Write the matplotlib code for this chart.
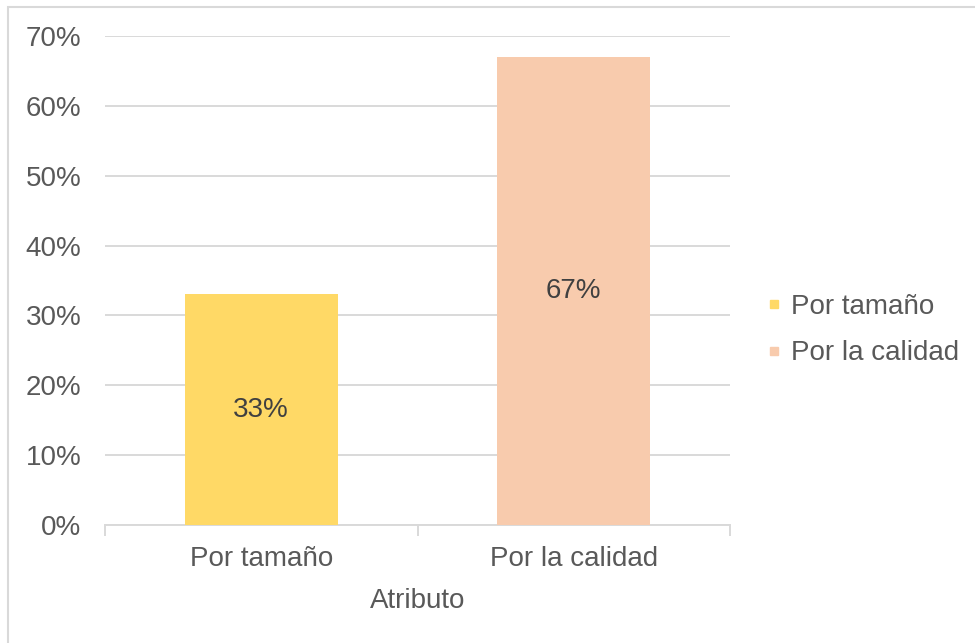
import matplotlib
matplotlib.use("Agg")
from matplotlib import pyplot as plt
from matplotlib.lines import Line2D
from matplotlib.patches import Rectangle

categories = ["Por tamaño", "Por la calidad"]
shares = [0.33, 0.67]
bar_colors = ["#FFD966", "#F8CBAD"]
y_ticks = [0, 0.1, 0.2, 0.3, 0.4, 0.5, 0.6, 0.7]
x_title = "Atributo"

plt.rcParams["font.family"] = ["Liberation Sans", "DejaVu Sans"]
txt = "#595959"
grid = "#D9D9D9"
fs = 20

fig = plt.figure(figsize=(9.75, 6.43), dpi=100)
ax = fig.add_axes([105 / 975, 1 - 525 / 643, 625 / 975, 489 / 643])

# light frame around the chart area
fig.patches.append(Rectangle((8 / 975, -0.1), 1.2, 1 - 7 / 643 + 0.1,
                             transform=fig.transFigure, fill=False,
                             edgecolor=grid, linewidth=1.5))

x = list(range(len(categories)))
bars = ax.bar(x, shares, width=0.49, color=bar_colors, zorder=3)
ax.bar_label(bars, labels=[f"{round(v * 100)}%" for v in shares], label_type="center",
             fontsize=fs, color="#404040")

ax.set_xlim(-0.5, 1.5)
ax.set_ylim(0, 0.7)
ax.set_yticks(y_ticks)
ax.set_yticklabels([f"{int(round(t * 100))}%" for t in y_ticks])
ax.yaxis.grid(True, color=grid, linewidth=1.4, zorder=0)
ax.set_axisbelow(True)

ax.set_xticks(x)
ax.set_xticklabels(categories)
ax.set_xticks([-0.5, 0.5, 1.5], minor=True)
ax.tick_params(axis="x", which="major", length=0, pad=15, labelsize=fs, labelcolor=txt)
ax.tick_params(axis="x", which="minor", length=8, width=1.4, color=grid)
ax.tick_params(axis="y", length=0, pad=17, labelsize=fs, labelcolor=txt)
ax.set_xlabel(x_title, fontsize=fs, color=txt, labelpad=12)

for side in ["top", "right", "left"]:
    ax.spines[side].set_visible(False)
ax.spines["bottom"].set_color(grid)
ax.spines["bottom"].set_linewidth(1.4)

handles = [Line2D([], [], marker="s", linestyle="none", markersize=6,
                  markerfacecolor=c, markeredgecolor=c) for c in bar_colors]
leg = fig.legend(handles, categories, loc="center left",
                 bbox_to_anchor=(755 / 975, 1 - 330 / 643), frameon=False,
                 fontsize=fs, handlelength=0.6, handletextpad=0.3,
                 labelspacing=0.75, borderaxespad=0)
for t in leg.get_texts():
    t.set_color(txt)

fig.savefig("out.png", dpi=100)
